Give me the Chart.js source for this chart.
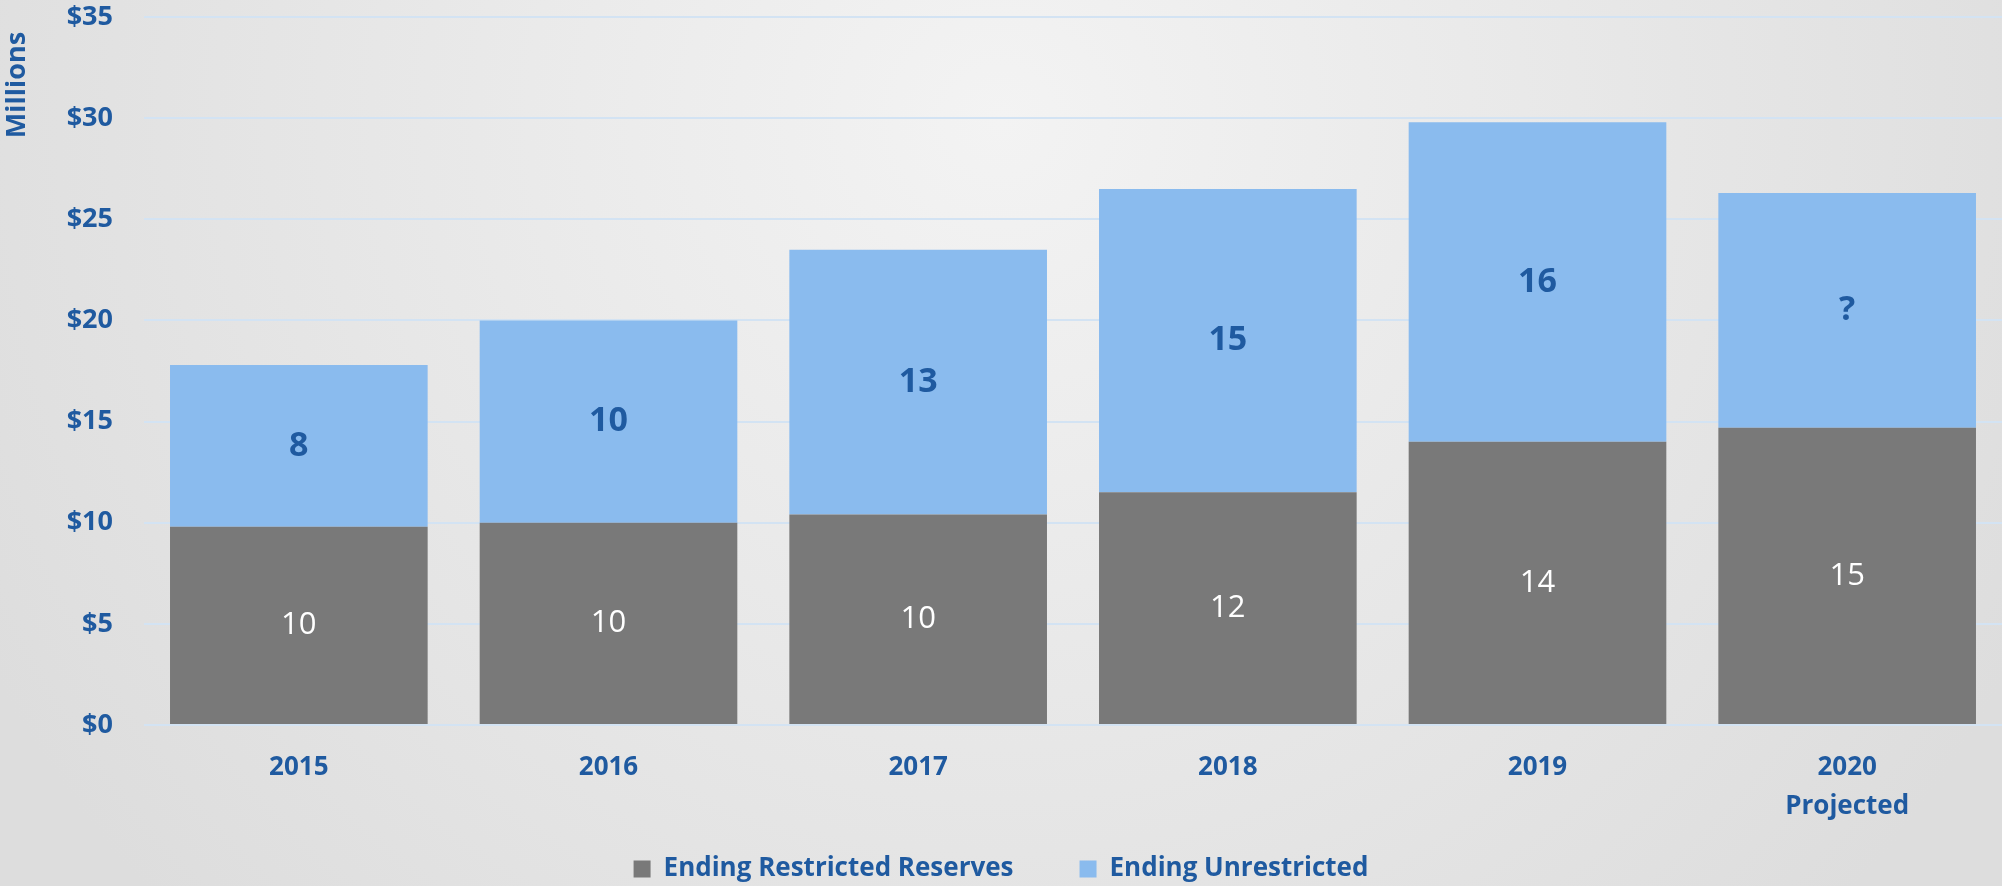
<!DOCTYPE html>
<html>
<head>
<meta charset="utf-8">
<script src="https://cdn.jsdelivr.net/npm/chart.js@4"></script>
<style>
  html, body { margin: 0; padding: 0; background: #e6e6e6; }
  canvas { display: block; }
</style>
</head>
<body>
<canvas id="reservesChart" width="2002" height="886"></canvas>
<script>
var years = ["2015", "2016", "2017", "2018", "2019", ["2020", "Projected"]];
var restrictedValues = [9.8, 10.0, 10.4, 11.5, 14.0, 14.7];
var unrestrictedValues = [8.0, 10.0, 13.1, 15.0, 15.8, 11.6];
var restrictedLabels = ["10", "10", "10", "12", "14", "15"];
var unrestrictedLabels = ["8", "10", "13", "15", "16", "?"];
var yTicks = [0, 5, 10, 15, 20, 25, 30, 35];

var blueText = "#1f5aa0";
var fontName = "'Open Sans', sans-serif";

var ctx = document.getElementById("reservesChart");
var reservesChart = new Chart(ctx, {
	type: "bar",
	data: {
		labels: years,
		datasets: [
			{
				label: "Ending Restricted Reserves",
				data: restrictedValues,
				backgroundColor: "#797979",
				valueLabels: restrictedLabels,
			},
			{
				label: "Ending Unrestricted",
				data: unrestrictedValues,
				backgroundColor: "#8abbee",
				valueLabels: unrestrictedLabels,
			},
		],
	},
	options: {
		responsive: false,
		animation: false,
		layout: { padding: 0 },
		datasets: {
			bar: { barPercentage: 0.832, categoryPercentage: 1.0 },
		},
		scales: {
			x: {
				stacked: true,
				grid: { display: false, drawTicks: false },
				border: { display: false },
				ticks: {
					color: blueText,
					padding: 23,
					font: { family: fontName, size: 26, weight: "bold", lineHeight: 1.5 },
				},
				afterFit: function (scale) { scale.height = 102; },
			},
			y: {
				stacked: true,
				min: 0,
				max: 35,
				grid: { color: "#d3e3f3", lineWidth: 2, drawTicks: false },
				border: { display: false },
				afterBuildTicks: function (scale) {
					scale.ticks = yTicks.map(function (v) { return { value: v }; });
				},
				ticks: {
					color: blueText,
					padding: 31,
					font: { family: fontName, size: 27, weight: "bold" },
					callback: function (v) { return "$" + v; },
				},
				afterFit: function (scale) {
					scale.width = 144;
					// keep the big label gap from pushing the plot down
					scale.paddingTop = 17;
					scale.paddingBottom = 17;
				},
			},
		},
		plugins: {
			tooltip: { enabled: false },
			legend: {
				display: true,
				position: "bottom",
				maxHeight: 59,
				labels: {
					color: blueText,
					boxWidth: 17,
					boxHeight: 17,
					padding: 66,
					font: { family: fontName, size: 26, weight: "bold" },
				},
			},
		},
	},
	plugins: [
		{
			id: "backdrop",
			beforeDraw: function (chart) {
				var c = chart.ctx,
				w = chart.width,
				h = chart.height;
				c.save();
				var g = c.createRadialGradient(1000, 120, 0, 1000, 120, 1150);
				g.addColorStop(0, "#f3f3f3");
				g.addColorStop(1, "#dddddd");
				c.fillStyle = g;
				c.fillRect(0, 0, w, h);
				c.restore();
			},
		},
		{
			id: "legendSpot",
			afterLayout: function (chart) {
				// legend padding is wide for the gap between items, move the row back up
				chart.legend.top = 790;
			},
		},
		{
			id: "barText",
			afterDatasetsDraw: function (chart) {
				var c = chart.ctx;
				c.save();
				c.textAlign = "center";
				c.textBaseline = "middle";
				chart.data.datasets.forEach(function (ds, di) {
					var meta = chart.getDatasetMeta(di);
					if (di === 0) {
						c.fillStyle = "#ffffff";
						c.font = "31px " + fontName;
					} else {
						c.fillStyle = blueText;
						c.font = "bold 34px " + fontName;
					}
					meta.data.forEach(function (bar, i) {
						var mid = (bar.y + bar.base) / 2;
						c.fillText(ds.valueLabels[i], bar.x, mid);
					});
				});
				// axis caption sits near the top of the y axis
				c.fillStyle = blueText;
				c.font = "bold 27px " + fontName;
				c.translate(17, 85);
				c.rotate(-Math.PI / 2);
				c.fillText("Millions", 0, 0);
				c.restore();
			},
		},
	],
});
</script>
</body>
</html>
